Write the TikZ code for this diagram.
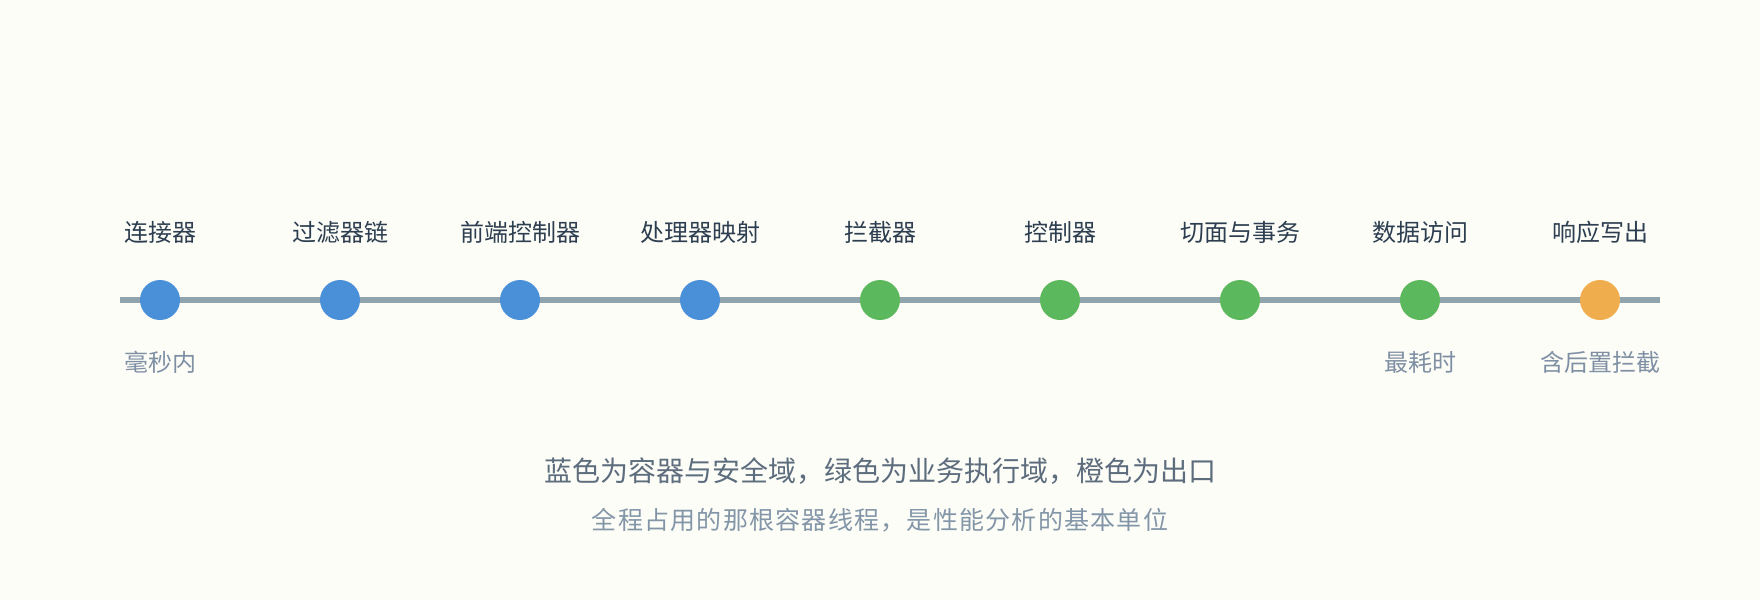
\documentclass[tikz,border=0pt]{standalone}
\usepackage{fontspec}
\setmainfont{Noto Sans CJK SC}
\definecolor{bgc}{HTML}{FDFDF7}
\definecolor{linec}{HTML}{90A4AE}
\definecolor{bluec}{HTML}{4A90D9}
\definecolor{greenc}{HTML}{5CB85C}
\definecolor{orangec}{HTML}{F0AD4E}
\definecolor{labc}{HTML}{2C3E50}
\definecolor{subc}{HTML}{7F8FA4}
\definecolor{titc}{HTML}{5D6D7E}
\definecolor{sttc}{HTML}{8396A8}
\begin{document}
\begin{tikzpicture}[x=1pt,y=-1pt,
  dot/.style={circle,inner sep=0pt,minimum size=40pt},
  toplab/.style={anchor=base,inner sep=0pt,text=labc,font=\fontsize{24pt}{28pt}\selectfont},
  botlab/.style={anchor=base,inner sep=0pt,text=subc,font=\fontsize{24pt}{28pt}\selectfont},
  titlab/.style={anchor=base,inner sep=0pt,text=titc,font=\fontsize{28pt}{32pt}\selectfont},
  sublab/.style={anchor=base,inner sep=0pt,text=sttc,font=\fontsize{25pt}{29pt}\selectfont\addfontfeature{LetterSpace=5}},
  track/.style={draw=linec,line width=6pt}]
\fill[bgc] (0,0) rectangle (1760,600);
\useasboundingbox (0,0) rectangle (1760,600);
\coordinate (ls) at (120,300);
\coordinate (le) at (1660,300);
\draw[track] (ls) -- (le);
\foreach \i/\x/\c in {1/160/bluec,2/340/bluec,3/520/bluec,4/700/bluec,5/880/greenc,6/1060/greenc,7/1240/greenc,8/1420/greenc,9/1600/orangec}{
  \node[dot,fill=\c] (c\i) at (\x,300) {};
}
\foreach \i/\x/\t in {1/160/连接器,2/340/过滤器链,3/520/前端控制器,4/700/处理器映射,5/880/拦截器,6/1060/控制器,7/1240/切面与事务,8/1420/数据访问,9/1600/响应写出}{
  \node[toplab] (t\i) at (\x,241) {\t};
}
\node[botlab] (b1) at (160,371) {毫秒内};
\node[botlab] (b8) at (1420,371) {最耗时};
\node[botlab] (b9) at (1600,371) {含后置拦截};
\node[titlab] (title) at (880,481) {蓝色为容器与安全域，绿色为业务执行域，橙色为出口};
\node[sublab] (subtitle) at (880,529) {全程占用的那根容器线程，是性能分析的基本单位};
\end{tikzpicture}
\end{document}
